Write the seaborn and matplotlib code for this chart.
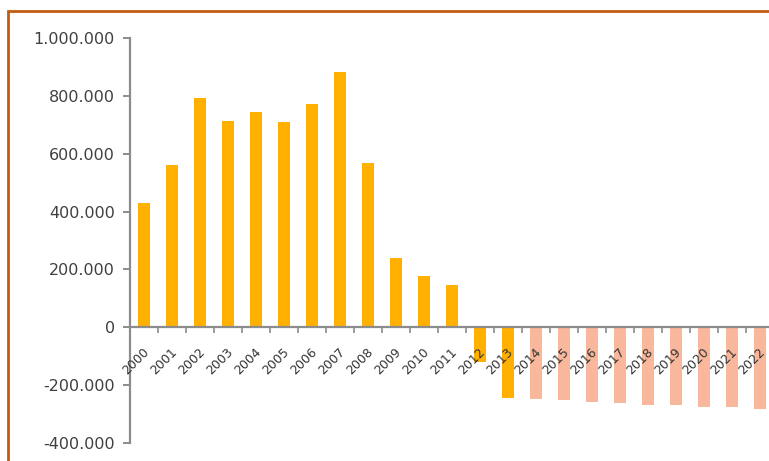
import pandas as pd
import matplotlib
matplotlib.use("Agg")
import matplotlib.pyplot as plt
import seaborn as sns
from matplotlib.ticker import FuncFormatter, FixedLocator
from matplotlib.patches import Rectangle
from matplotlib.transforms import ScaledTranslation

# Daten
jahre = [str(j) for j in range(2000, 2023)]
werte = [428000, 560000, 793000, 714000, 745000, 710000, 772000, 883000,
         569000, 241000, 176000, 145000, -121000, -245000,
         -248000, -252000, -259000, -260000, -269000, -269000, -276000, -276000, -283000]
typ = ["Ist"] * 14 + ["Prognose"] * 9

tabelle = pd.DataFrame({"Jahr": jahre, "Wert": werte, "Typ": typ})
farben = {"Ist": "#FFB000", "Prognose": "#F9B89B"}

sns.set_style("white")
plt.rcParams["font.family"] = ["DejaVu Sans"]

fig = plt.figure(figsize=(7.69, 4.61), dpi=100)
ax = fig.add_axes([130 / 769, 1 - 443 / 461, 644 / 769, 405 / 461])

sns.barplot(data=tabelle, x="Jahr", y="Wert", hue="Typ", palette=farben,
            dodge=False, width=0.46, linewidth=0, saturation=1,
            legend=False, ax=ax)

ax.set_xlim(-0.5, 22.5)
ax.set_ylim(-400000, 1000000)
ax.set_yticks(range(-400000, 1000001, 200000))
ax.yaxis.set_major_formatter(FuncFormatter(lambda v, p: f"{v:,.0f}".replace(",", ".")))

# Achsen
for s in ["top", "right"]:
    ax.spines[s].set_visible(False)
ax.spines["bottom"].set_position(("data", 0))
ax.spines["bottom"].set_color("#8c8c8c")
ax.spines["bottom"].set_linewidth(1.6)
ax.spines["left"].set_color("#8c8c8c")
ax.spines["left"].set_linewidth(1.6)
ax.set_axisbelow(False)

ax.tick_params(axis="y", direction="out", length=5, width=1.4, color="#8c8c8c",
               labelsize=11.5, labelcolor="#404040", pad=6, left=True)
ax.tick_params(axis="x", which="major", length=0, labelsize=9, labelcolor="#333333", pad=0)
ax.xaxis.set_minor_locator(FixedLocator([i + 0.5 for i in range(-1, 23)]))
ax.tick_params(axis="x", which="minor", direction="out", length=4, width=1.2,
               color="#8c8c8c", bottom=True)
versatz = ScaledTranslation(0.03, -0.23, fig.dpi_scale_trans)
for lbl in ax.get_xticklabels():
    lbl.set_rotation(45)
    lbl.set_ha("right")
    lbl.set_rotation_mode("anchor")
    lbl.set_va("center")
    lbl.set_transform(lbl.get_transform() + versatz)
    lbl.set_zorder(5)

ax.set_xlabel("")
ax.set_ylabel("")

# Rahmen
fig.patches.append(Rectangle((8 / 769, -0.1), 1.2, 1 - 11 / 461 + 0.1,
                             transform=fig.transFigure, fill=False,
                             edgecolor="#C55A11", linewidth=2, zorder=10))

fig.savefig("out.png", dpi=100)
